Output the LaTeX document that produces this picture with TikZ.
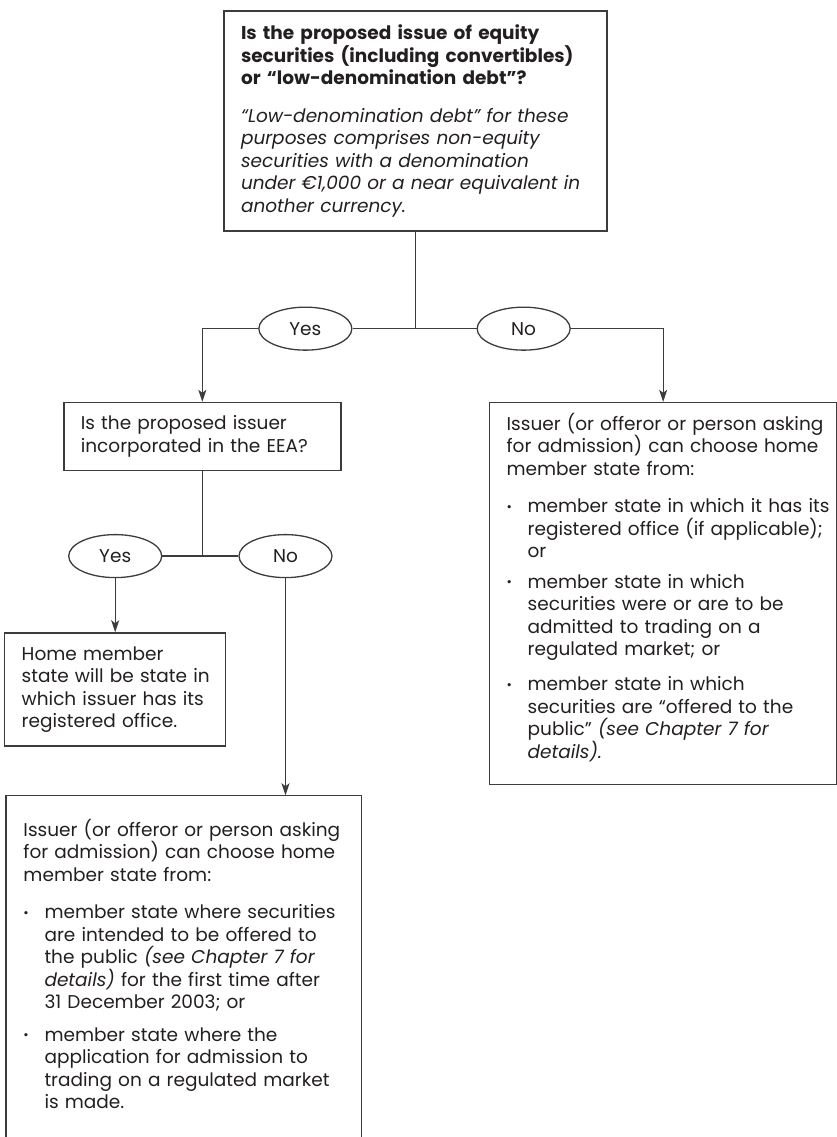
\documentclass[tikz,border=0pt]{standalone}
\usepackage{fontspec}
\setmainfont{Poppins}
\usepackage{xcolor}
\usepackage{tikz}
\usetikzlibrary{arrows.meta,positioning,shapes.geometric}

\definecolor{inkline}{HTML}{3C3C3C}
\definecolor{inktext}{HTML}{231F20}

% bulleted paragraph with hanging text
\newcommand{\bul}[1]{\par\vspace{15pt}\noindent\makebox[21pt][l]{\raisebox{1.5pt}{\fontsize{13}{13}\selectfont\textbullet}}\parbox[t]{\dimexpr\hsize-\leftskip-11pt\relax}{#1}}

\begin{document}
\begin{tikzpicture}[
      x=1pt, y=1pt,
      font=\fontsize{18.5}{22.5}\selectfont,
      text=inktext,
      % Reusable styles
      qbox/.style={
        draw=inkline,
        line width=1.3pt,
        align=left,
        inner xsep=8pt,
        inner ysep=0pt,
        execute at begin node={\leftskip=9pt\relax}
      },
      choice/.style={
        ellipse,
        draw=inkline,
        line width=1.3pt,
        minimum width=93pt,
        minimum height=43pt,
        inner sep=0pt
      },
      link/.style={draw=inkline, line width=1.3pt},
      arrow/.style={link, -{Stealth[length=12pt, width=8pt, inset=3pt]}}
    ]
    \useasboundingbox (0,0) rectangle (837,-1137);
    \coordinate (pagebottom) at (0,-1137);

    % Nodes
    \node[qbox, text width=367pt, minimum height=220pt] (issue) at (415.5,-121) {
      {\bfseries Is the proposed issue of equity\\
      securities (including convertibles)\\
      or “low-denomination debt”?}\\[15pt]
      {\itshape “Low-denomination debt” for these\\
      purposes comprises non-equity\\
      securities with a denomination\\
      under €1,000 or a near equivalent in\\
      another currency.}
    };
    \coordinate[below=97pt of issue.south] (j1);
    \node[choice, left=63pt of j1] (yes1) {Yes};
    \node[choice, right=61pt of j1] (no1) {No};

    \node[qbox, text width=261pt, minimum height=68pt,
          below=51pt of yes1.south, xshift=-103pt] (eea)
      {Is the proposed issuer\\incorporated in the EEA?};
    \coordinate[below=85pt of eea.south] (j2);
    \node[choice, left=40pt of j2] (yes2) {Yes};
    \node[choice, right=36pt of j2] (no2) {No};

    \node[qbox, text width=205pt, minimum height=113pt, below=54pt of yes2.south] (home)
      {Home member\\state will be state in\\which issuer has its\\registered office.};

    \node[qbox, text width=331pt, minimum height=382pt,
          below=51pt of no1.south, xshift=139.5pt] (choose1) {
      Issuer (or offeror or person asking\\
      for admission) can choose home\\
      member state from:
      \bul{member state in which it has its\\registered office (if applicable);\\or}
      \bul{member state in which\\securities were or are to be\\admitted to trading on a\\regulated market; or}
      \bul{member state in which\\securities are “offered to the\\public” \textit{(see Chapter 7 for}\\\textit{details).}}
      \par\kern12pt
    };

    \node[qbox, draw=none, text width=338pt, inner ysep=23pt, anchor=north,
          below=217pt of no2.south, xshift=-102pt] (choose2) {
      Issuer (or offeror or person asking\\
      for admission) can choose home\\
      member state from:
      \bul{member state where securities\\are intended to be offered to\\the public \textit{(see Chapter 7 for}\\\textit{details)} for the first time after\\31 December 2003; or}
      \bul{member state where the\\application for admission to\\trading on a regulated market\\is made.}
    };
    \draw[link] (choose2.north west |- pagebottom) -- (choose2.north west)
      -- (choose2.north east) -- (choose2.north east |- pagebottom);

    % Edges
    \draw[link] (issue) -- (j1);
    \draw[link] (yes1) -- (j1) -- (no1);
    \draw[arrow] (yes1) -| (eea);
    \draw[arrow] (no1) -| (choose1);
    \draw[link] (eea) -- (j2);
    \draw[link] (yes2) -- (j2) -- (no2);
    \draw[arrow] (yes2) -- (home);
    \draw[arrow] (no2) -- (no2 |- choose2.north);
  \end{tikzpicture}
\end{document}
